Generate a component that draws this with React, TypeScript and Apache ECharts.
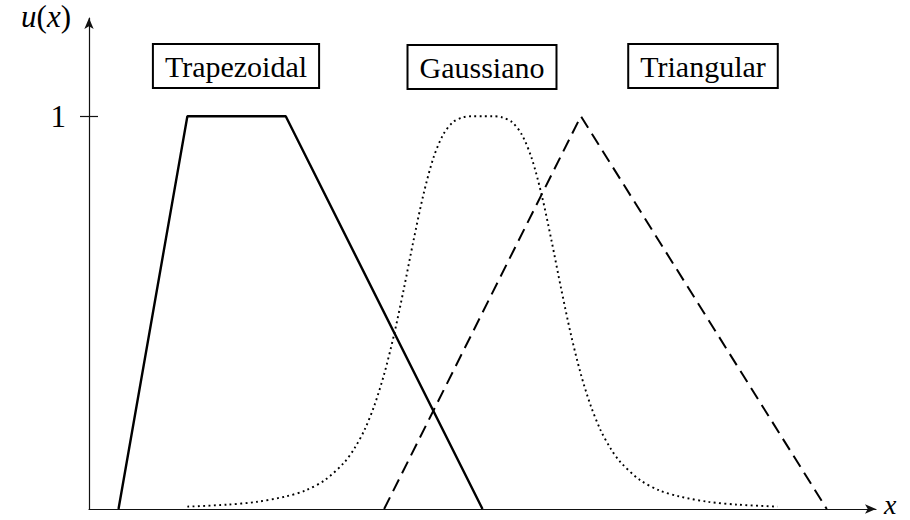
import React, { useEffect, useRef } from "react";
import * as echarts from "echarts";

const trapX = [0.3, 1, 2, 4];
const trapY = [0, 1, 1, 0];

const triX = [3, 5, 7.5];
const triY = [0, 1, 0];

const gaussX = [1.0, 1.4, 1.7, 2.0, 2.2, 2.4, 2.6, 2.7, 2.8, 2.9, 3.0, 3.1, 3.2, 3.3, 3.4, 3.5, 3.6, 3.7, 3.8, 3.9, 4.0, 4.1, 4.2, 4.3, 4.4, 4.5, 4.6, 4.7, 4.8, 4.9, 5.0, 5.1, 5.2, 5.3, 5.4, 5.6, 5.8, 6.0, 6.3, 6.6, 7.0];
const gaussY = [0.006, 0.011, 0.018, 0.032, 0.047, 0.074, 0.12, 0.155, 0.201, 0.263, 0.343, 0.443, 0.56, 0.685, 0.801, 0.893, 0.953, 0.985, 0.997, 1.0, 1.0, 1.0, 0.997, 0.985, 0.953, 0.893, 0.801, 0.685, 0.56, 0.443, 0.343, 0.263, 0.201, 0.155, 0.12, 0.074, 0.047, 0.032, 0.018, 0.011, 0.006];

const boxLabels = ["Trapezoidal", "Gaussiano", "Triangular"];
const yTickValues = [1];
const yTickHalf = 0.0916; // right half of the y tick, in x units (9px)

const FONT = "Liberation Serif";

function zip(xs: number[], ys: number[]) {
  return xs.map((x, i) => [x, ys[i]]);
}

export default function App() {
  const ref = useRef<HTMLDivElement>(null);
  useEffect(() => {
    if (!ref.current) return;
    const chart = echarts.init(ref.current, undefined, { renderer: "svg" });
    const boxPos = [
      [236, 66],
      [482, 67],
      [703, 66],
    ];
    chart.setOption({
      animation: false,
      backgroundColor: "#fff",
      textStyle: { fontFamily: FONT },
      grid: { left: 89, top: 18, width: 787, bottom: 11, containLabel: false },
      xAxis: {
        type: "value",
        min: 0,
        max: 8,
        splitLine: { show: false },
        axisTick: { show: false },
        axisLabel: { show: false },
        axisLine: {
          show: true,
          onZero: false,
          symbol: ["none", "arrow"],
          symbolSize: [7, 11],
          lineStyle: { color: "#111", width: 1.2 },
        },
      },
      yAxis: {
        type: "value",
        min: 0,
        max: 1.25,
        splitLine: { show: false },
        axisLine: {
          show: true,
          onZero: false,
          symbol: ["none", "arrow"],
          symbolSize: [7, 11],
          lineStyle: { color: "#111", width: 1.2 },
        },
        axisTick: {
          show: true,
          length: 9,
          customValues: yTickValues,
          lineStyle: { color: "#111", width: 1.2 },
        },
        axisLabel: {
          show: true,
          customValues: yTickValues,
          margin: 23,
          fontFamily: FONT,
          fontSize: 31,
          color: "#000",
        },
        name: "{i|u}({i|x})",
        nameLocation: "end",
        nameGap: 2,
        nameTextStyle: {
          fontFamily: FONT,
          fontSize: 31,
          color: "#000",
          align: "right",
          verticalAlign: "middle",
          padding: [0, 18, 0, 0],
          rich: {
            i: { fontFamily: FONT, fontStyle: "italic", fontSize: 31, color: "#000" },
          },
        },
      },
      series: [
        {
          type: "line",
          name: boxLabels[0],
          data: zip(trapX, trapY),
          symbol: "none",
          lineStyle: { color: "#000", width: 2.4, type: "solid" },
          markLine: {
            silent: true,
            symbol: "none",
            label: { show: false },
            lineStyle: { color: "#111", width: 1.2, type: "solid" },
            data: yTickValues.map((v) => [{ coord: [0, v] }, { coord: [yTickHalf, v] }]),
          },
        },
        {
          type: "line",
          name: boxLabels[1],
          data: zip(gaussX, gaussY),
          symbol: "none",
          smooth: 0.3,
          lineStyle: { color: "#000", width: 1.9, type: [1.9, 3.4] },
        },
        {
          type: "line",
          name: boxLabels[2],
          data: zip(triX, triY),
          symbol: "none",
          lineStyle: { color: "#000", width: 2, type: [13, 7] },
        },
      ],
      graphic: [
        ...boxLabels.map((t, i) => ({
          type: "text",
          x: boxPos[i][0],
          y: boxPos[i][1],
          style: {
            text: t,
            fontFamily: FONT,
            fontSize: 30,
            fill: "#000",
            align: "center",
            verticalAlign: "middle",
            backgroundColor: "#fff",
            borderColor: "#000",
            borderWidth: 2,
            padding: [6, 11, 6, 11],
            lineHeight: 30,
          },
        })),
        {
          type: "text",
          x: 884,
          y: 504,
          style: {
            text: "x",
            fontFamily: FONT,
            fontStyle: "italic",
            fontSize: 28,
            lineHeight: 18,
            fill: "#000",
            align: "left",
            verticalAlign: "middle",
          },
        },
      ],
    });
    return () => chart.dispose();
  }, []);
  return (
    <div
      ref={ref}
      style={{ position: "fixed", left: 0, top: 0, width: 910, height: 520 }}
    />
  );
}
